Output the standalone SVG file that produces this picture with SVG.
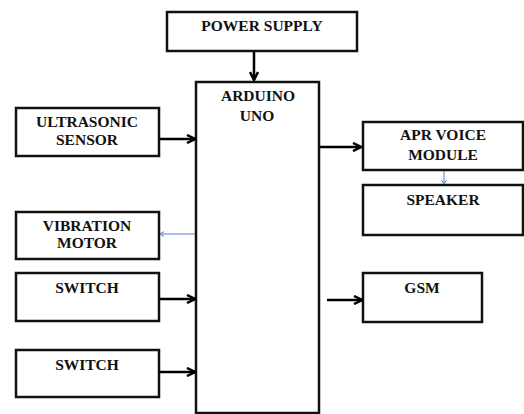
<svg xmlns="http://www.w3.org/2000/svg" width="524" height="414" viewBox="0 0 524 414">
<defs>
<style>
.box{fill:#fff;stroke:#111;stroke-width:2.5}
.t{font-family:'Liberation Serif','Times New Roman',serif;font-weight:700;font-size:15.5px;fill:#111;text-anchor:middle}
.c{stroke:#000;stroke-width:2.5;fill:none}
.b{stroke:#5b7fc7;stroke-width:1;fill:none}
</style>
<marker id="ah" markerWidth="10" markerHeight="10" refX="9" refY="5" orient="auto" markerUnits="userSpaceOnUse">
<path d="M1,1 L9,5 L1,9" fill="none" stroke="#000" stroke-width="2.5"/>
</marker>
<marker id="bh" markerWidth="6" markerHeight="6" refX="5" refY="3" orient="auto" markerUnits="userSpaceOnUse">
<path d="M1,0.5 L5,3 L1,5.5" fill="none" stroke="#5b7fc7" stroke-width="1"/>
</marker>
</defs>
<rect width="524" height="414" fill="#fff"/>
<g id="power"><rect class="box" x="167" y="12" width="190" height="39"/><text class="t" x="262" y="31">POWER SUPPLY</text></g>
<g id="arduino"><rect class="box" x="196" y="82" width="123" height="331"/><text class="t" x="258" y="101">ARDUINO</text><text class="t" x="257" y="121">UNO</text></g>
<g id="ultrasonic"><rect class="box" x="16" y="108" width="143" height="48"/><text class="t" x="87" y="127">ULTRASONIC</text><text class="t" x="87" y="145">SENSOR</text></g>
<g id="vibration"><rect class="box" x="16" y="212" width="143" height="47"/><text class="t" x="87" y="231">VIBRATION</text><text class="t" x="87" y="248">MOTOR</text></g>
<g id="switch1"><rect class="box" x="16" y="273" width="143" height="48"/><text class="t" x="87" y="293">SWITCH</text></g>
<g id="switch2"><rect class="box" x="16" y="350" width="143" height="47"/><text class="t" x="87" y="370">SWITCH</text></g>
<g id="apr"><rect class="box" x="363" y="122" width="160" height="48"/><text class="t" x="443" y="140">APR VOICE</text><text class="t" x="443" y="160">MODULE</text></g>
<g id="speaker"><rect class="box" x="363" y="185" width="160" height="50"/><text class="t" x="443" y="205">SPEAKER</text></g>
<g id="gsm"><rect class="box" x="363" y="273" width="119" height="49"/><text class="t" x="422" y="293">GSM</text></g>
<g id="connectors">
<line class="c" x1="254" y1="51" x2="254" y2="80" marker-end="url(#ah)"/>
<line class="c" x1="159" y1="139" x2="195" y2="139" marker-end="url(#ah)"/>
<line class="b" x1="195" y1="234" x2="160" y2="234" marker-end="url(#bh)"/>
<line class="c" x1="159" y1="299" x2="195" y2="299" marker-end="url(#ah)"/>
<line class="c" x1="159" y1="372" x2="195" y2="372" marker-end="url(#ah)"/>
<line class="c" x1="320" y1="147" x2="361" y2="147" marker-end="url(#ah)"/>
<line class="b" x1="444" y1="171" x2="444" y2="184" marker-end="url(#bh)"/>
<line class="c" x1="327" y1="300" x2="362" y2="300" marker-end="url(#ah)"/>
</g>
</svg>
